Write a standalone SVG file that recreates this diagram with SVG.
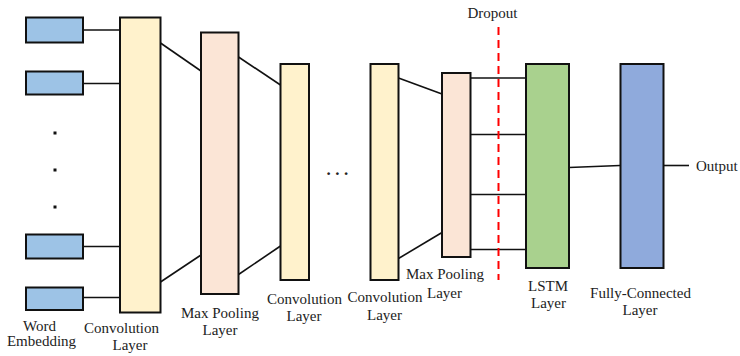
<svg xmlns="http://www.w3.org/2000/svg" width="740" height="356" viewBox="0 0 740 356">
<style>
.box{stroke:#111;stroke-width:2}
.emb{fill:#9DC3E6}
.conv{fill:#FFF2CC}
.pool{fill:#FBE5D6}
.lstm{fill:#A9D18E}
.fc{fill:#8FAADC}
.ln{stroke:#111;stroke-width:1.6;fill:none}
.drop{stroke:#FF0000;stroke-width:2;stroke-dasharray:8,5;fill:none}
.t{font-family:"Liberation Serif","Times New Roman",serif;font-size:15px;fill:#222;text-anchor:middle}
</style>
<rect width="740" height="356" fill="#fff"/>
<g id="connectors">
<line class="ln" x1="83" y1="30" x2="120" y2="30"/>
<line class="ln" x1="83" y1="83.5" x2="120" y2="83.5"/>
<line class="ln" x1="83" y1="246.5" x2="120" y2="246.5"/>
<line class="ln" x1="83" y1="297.5" x2="120" y2="297.5"/>
<line class="ln" x1="160.5" y1="43" x2="201" y2="71"/>
<line class="ln" x1="160.5" y1="282" x2="201" y2="255"/>
<line class="ln" x1="238.5" y1="57" x2="280.5" y2="85"/>
<line class="ln" x1="238.5" y1="274.5" x2="280.5" y2="246"/>
<line class="ln" x1="398.5" y1="78" x2="442" y2="94"/>
<line class="ln" x1="398.5" y1="258.5" x2="442" y2="232.5"/>
<line class="ln" x1="470.5" y1="78" x2="526" y2="78"/>
<line class="ln" x1="470.5" y1="134.5" x2="526" y2="134.5"/>
<line class="ln" x1="470.5" y1="194.5" x2="526" y2="194.5"/>
<line class="ln" x1="470.5" y1="249.5" x2="526" y2="249.5"/>
<line class="ln" x1="569" y1="167.5" x2="620" y2="165.5"/>
<line class="ln" x1="663.5" y1="165.5" x2="689" y2="165.5"/>
<line class="drop" x1="498.5" y1="27" x2="498.5" y2="280"/>
</g>
<g id="word-embedding">
<rect class="box emb" x="26" y="17.5" width="57" height="25"/>
<rect class="box emb" x="26" y="71.5" width="57" height="23"/>
<rect class="box emb" x="26" y="234.5" width="57" height="24"/>
<rect class="box emb" x="26" y="287.5" width="57" height="22.5"/>
<rect x="53.5" y="131.5" width="3" height="3" fill="#111"/>
<rect x="53.5" y="168.5" width="3" height="3" fill="#111"/>
<rect x="53.5" y="205.5" width="3" height="3" fill="#111"/>
<text class="t" x="39.5" y="331">Word</text>
<text class="t" x="41.5" y="346">Embedding</text>
</g>
<g id="conv1">
<rect class="box conv" x="120" y="17.5" width="40.5" height="295"/>
<text class="t" x="121.5" y="333">Convolution</text>
<text class="t" x="130" y="350">Layer</text>
</g>
<g id="pool1">
<rect class="box pool" x="201" y="32.5" width="37.5" height="261.5"/>
<text class="t" x="220" y="318">Max Pooling</text>
<text class="t" x="220" y="335">Layer</text>
</g>
<g id="conv2">
<rect class="box conv" x="280.5" y="64" width="28.5" height="216"/>
<text class="t" x="304.5" y="304">Convolution</text>
<text class="t" x="304" y="321">Layer</text>
</g>
<g id="ellipsis">
<text class="t" x="326.5" y="175" style="text-anchor:start;font-size:17px;font-weight:bold;letter-spacing:4.5px">...</text>
</g>
<g id="conv3">
<rect class="box conv" x="370.5" y="64" width="28" height="216"/>
<text class="t" x="385" y="302">Convolution</text>
<text class="t" x="384.5" y="320">Layer</text>
</g>
<g id="pool2">
<rect class="box pool" x="442" y="73" width="28.5" height="184"/>
<text class="t" x="445" y="279">Max Pooling</text>
<text class="t" x="444.5" y="298">Layer</text>
</g>
<g id="dropout">
<text class="t" x="492.5" y="18">Dropout</text>
</g>
<g id="lstm">
<rect class="box lstm" x="526" y="64" width="43" height="204"/>
<text class="t" x="548" y="291">LSTM</text>
<text class="t" x="548.5" y="308">Layer</text>
</g>
<g id="fc">
<rect class="box fc" x="620.5" y="64" width="43" height="204"/>
<text class="t" x="640.5" y="298">Fully-Connected</text>
<text class="t" x="640" y="315">Layer</text>
</g>
<g id="output">
<text class="t" x="696" y="171" style="text-anchor:start">Output</text>
</g>
</svg>
